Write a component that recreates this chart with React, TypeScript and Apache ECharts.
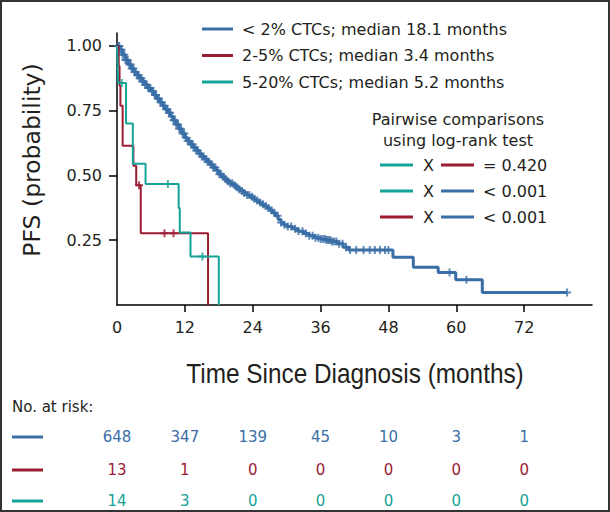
import React, { useEffect, useRef } from 'react';
import * as echarts from 'echarts';

const BLUE = '#3a6ea6';
const RED = '#9c1c33';
const TEAL = '#16a397';
const TEXT = '#231f20';
const FONT = "'DejaVu Sans', 'Liberation Sans', sans-serif";
const NARROW = "'Liberation Sans', Arial, sans-serif";

const groupNames = [
  '< 2% CTCs; median 18.1 months',
  '2-5% CTCs; median 3.4 months',
  '5-20% CTCs; median 5.2 months',
];
const groupColors = [BLUE, RED, TEAL];

// Kaplan-Meier estimates (time in months, survival prob after the step)
const blueTimes = [0, 0.5, 1, 1.5, 2, 2.5, 3, 3.5, 4, 4.5, 5, 5.5, 6, 6.5, 7, 7.5, 8, 8.5, 9, 9.5, 10, 10.5, 11, 11.5, 12, 12.5, 13, 13.5, 14, 14.5, 15, 15.5, 16, 16.5, 17, 17.5, 18, 18.5, 19, 19.5, 20, 20.5, 21, 21.5, 22, 22.5, 23, 23.5, 24, 24.5, 25, 25.5, 26, 26.5, 27, 27.5, 28, 28.5, 29, 29.5, 30, 31, 32, 33, 34, 35, 36, 37, 38, 39, 40, 41, 48.8, 52.4, 56.8, 59.9, 64.6, 79.6];
const blueSurv = [1.0, 0.985, 0.966, 0.946, 0.928, 0.913, 0.899, 0.887, 0.875, 0.863, 0.85, 0.838, 0.825, 0.811, 0.797, 0.783, 0.769, 0.756, 0.742, 0.728, 0.713, 0.697, 0.68, 0.662, 0.646, 0.633, 0.62, 0.608, 0.596, 0.584, 0.573, 0.563, 0.553, 0.542, 0.531, 0.519, 0.505, 0.495, 0.486, 0.478, 0.47, 0.462, 0.455, 0.447, 0.44, 0.432, 0.425, 0.418, 0.41, 0.403, 0.396, 0.389, 0.382, 0.374, 0.366, 0.356, 0.345, 0.33, 0.318, 0.31, 0.303, 0.294, 0.285, 0.276, 0.267, 0.26, 0.255, 0.251, 0.245, 0.236, 0.223, 0.212, 0.184, 0.146, 0.125, 0.097, 0.048, 0.048];
const blueCensor = [0.2, 0.4, 0.6, 0.8, 1.0, 1.3, 1.5, 1.7, 1.9, 2.2, 2.4, 2.6, 2.9, 3.1, 3.3, 3.6, 3.8, 4.0, 4.3, 4.5, 4.7, 5.0, 5.2, 5.5, 5.7, 5.9, 6.2, 6.4, 6.7, 6.9, 7.2, 7.4, 7.7, 7.9, 8.2, 8.4, 8.7, 8.9, 9.2, 9.4, 9.7, 10.0, 10.2, 10.5, 10.8, 11.0, 11.3, 11.6, 11.9, 12.2, 12.5, 12.8, 13.1, 13.4, 13.7, 14.0, 14.3, 14.7, 15.0, 15.3, 15.7, 16.0, 16.3, 16.7, 17.0, 17.4, 17.7, 18.1, 18.4, 18.8, 19.2, 19.6, 20.0, 20.4, 20.8, 21.2, 21.6, 22.1, 22.5, 23.0, 23.4, 23.9, 24.3, 24.8, 25.3, 25.8, 26.3, 26.8, 27.3, 27.8, 28.4, 29.0, 29.6, 30.2, 30.8, 31.5, 32.1, 32.8, 33.4, 34.0, 34.6, 35.1, 35.6, 36.0, 36.4, 36.8, 37.1, 37.4, 37.7, 38.0, 38.4, 38.8, 39.3, 39.9, 40.5, 41.2, 42.3, 43.6, 44.7, 45.6, 46.5, 47.4, 48.0, 58.8, 61.8, 79.6];

const redTimes = [0, 0.3, 0.45, 0.6, 1.0, 2.9, 3.4, 4.2, 16.1];
const redSurv = [1.0, 0.923, 0.846, 0.769, 0.615, 0.538, 0.462, 0.277, 0];
const redCensor = [3.9, 8.4, 10.0];

const tealTimes = [0, 0.1, 0.2, 1.6, 2.8, 5.05, 10.9, 11.1, 13.0, 18.0];
const tealSurv = [1.0, 0.929, 0.857, 0.701, 0.545, 0.467, 0.374, 0.28, 0.187, 0];
const tealCensor = [0.85, 9.0, 15.1];

const xTicks = [0, 12, 24, 36, 48, 60, 72];
const yTicks = [0.25, 0.5, 0.75, 1.0];

const riskTimes = [0, 12, 24, 36, 48, 60, 72];
const riskBlue = [648, 347, 139, 45, 10, 3, 1];
const riskRed = [13, 1, 0, 0, 0, 0, 0];
const riskTeal = [14, 3, 0, 0, 0, 0, 0];

const pairFirst = [TEAL, TEAL, RED];
const pairSecond = [RED, BLUE, BLUE];
const pairP = ['= 0.420', '< 0.001', '< 0.001'];

const PLUS = 'path://M3,0h2v3h3v2h-3v3h-2v-3h-3v-2h3z';

function lookup(times: number[], surv: number[], t: number) {
  let v = surv[0];
  for (let i = 0; i < times.length; i++) if (times[i] <= t) v = surv[i];
  return v;
}

export default function App() {
  const ref = useRef<HTMLDivElement>(null);
  useEffect(() => {
    if (!ref.current) return;
    const chart = echarts.init(ref.current, null, { renderer: 'svg' });
    const curves = [
      [blueTimes, blueSurv, blueCensor],
      [redTimes, redSurv, redCensor],
      [tealTimes, tealSurv, tealCensor],
    ] as number[][][];
    const series: any[] = [];
    curves.forEach((c, i) => {
      series.push({
        name: groupNames[i],
        type: 'line',
        step: 'end',
        showSymbol: false,
        data: c[0].map((t, k) => [t, c[1][k]]),
        lineStyle: { color: groupColors[i], width: i === 0 ? 3 : 2 },
        itemStyle: { color: groupColors[i] },
        z: i === 0 ? 2 : 3,
      });
    });
    curves.forEach((c, i) => {
      series.push({
        type: 'scatter',
        symbol: PLUS,
        symbolSize: 8,
        data: c[2].map((t) => [t, lookup(c[0], c[1], t)]),
        itemStyle: { color: groupColors[i] },
        z: i === 0 ? 2 : 3,
        silent: true,
      });
    });

    chart.setOption({
      animation: false,
      backgroundColor: '#fff',
      grid: { left: 117, right: 18, top: 33, bottom: 207 },
      legend: {
        data: groupNames,
        orient: 'vertical',
        left: 197,
        top: 15,
        icon: 'rect',
        itemWidth: 31,
        itemHeight: 3,
        itemGap: 8.5,
        textStyle: { fontSize: 16, fontFamily: FONT, color: TEXT, lineHeight: 18, padding: [0, 0, 0, 4] },
        selectedMode: false,
      },
      xAxis: {
        type: 'value',
        min: 0,
        max: 84,
        interval: 12,
        splitLine: { show: false },
        axisLine: { show: true, lineStyle: { color: '#000', width: 1.5 } },
        axisTick: { show: true, length: 7, customValues: xTicks.filter((v) => v > 0), lineStyle: { color: '#000', width: 1.5 } },
        axisLabel: {
          customValues: xTicks,
          formatter: (v: number) => (xTicks.indexOf(v) >= 0 ? String(v) : ''),
          fontSize: 16,
          fontFamily: FONT,
          color: TEXT,
          margin: 14,
        },
      },
      yAxis: {
        type: 'value',
        min: 0,
        max: 1.05,
        interval: 0.25,
        splitLine: { show: false },
        axisLine: { show: true, lineStyle: { color: '#000', width: 1.5 } },
        axisTick: { show: true, length: 8, customValues: yTicks, lineStyle: { color: '#000', width: 1.5 } },
        axisLabel: {
          customValues: yTicks,
          formatter: (v: number) => (yTicks.some((y) => Math.abs(y - v) < 1e-6) ? v.toFixed(2) : ''),
          fontSize: 16,
          fontFamily: FONT,
          color: TEXT,
          margin: 15,
        },
      },
      series,
    });

    const g: any[] = [];
    g.push({ type: 'rect', shape: { x: 1, y: 1, width: 608, height: 510 }, style: { fill: 'none', stroke: '#333', lineWidth: 2 }, z: 100 });
    g.push({ type: 'text', x: 32, y: 160, rotation: Math.PI / 2, style: { text: 'PFS (probability)', fontSize: 23.5, fontFamily: FONT, fill: TEXT, textAlign: 'center', textVerticalAlign: 'middle' } });
    g.push({ type: 'text', x: 355, y: 373, scaleX: 0.87, style: { text: 'Time Since Diagnosis (months)', fontSize: 28, fontFamily: NARROW, fill: TEXT, textAlign: 'center', textVerticalAlign: 'middle' } });
    g.push({ type: 'text', x: 458, y: 119, style: { text: 'Pairwise comparisons', fontSize: 16, fontFamily: FONT, fill: TEXT, textAlign: 'center', textVerticalAlign: 'middle' } });
    g.push({ type: 'text', x: 458, y: 140, style: { text: 'using log-rank test', fontSize: 16, fontFamily: FONT, fill: TEXT, textAlign: 'center', textVerticalAlign: 'middle' } });
    const pairY = [165, 191, 217];
    pairY.forEach((y, i) => {
      g.push({ type: 'line', shape: { x1: 380, y1: y, x2: 413, y2: y }, style: { stroke: pairFirst[i], lineWidth: 3 } });
      g.push({ type: 'text', x: 428.5, y, style: { text: 'X', fontSize: 16, fontFamily: FONT, fill: TEXT, textAlign: 'center', textVerticalAlign: 'middle' } });
      g.push({ type: 'line', shape: { x1: 441, y1: y, x2: 474, y2: y }, style: { stroke: pairSecond[i], lineWidth: 3 } });
      g.push({ type: 'text', x: 483, y, style: { text: pairP[i], fontSize: 16, fontFamily: FONT, fill: TEXT, textAlign: 'left', textVerticalAlign: 'middle' } });
    });
    g.push({ type: 'text', x: 12, y: 407, style: { text: 'No. at risk:', fontSize: 15, fontFamily: FONT, fill: TEXT, textAlign: 'left', textVerticalAlign: 'middle' } });
    const riskRows = [riskBlue, riskRed, riskTeal];
    const rowY = [437, 470, 501];
    riskRows.forEach((row, i) => {
      const y = rowY[i];
      g.push({ type: 'line', shape: { x1: 12, y1: y, x2: 43, y2: y }, style: { stroke: groupColors[i], lineWidth: 3 } });
      row.forEach((n, k) => {
        const x = chart.convertToPixel({ xAxisIndex: 0 }, riskTimes[k]) as number;
        g.push({ type: 'text', x, y, style: { text: String(n), fontSize: 15, fontFamily: FONT, fill: groupColors[i], textAlign: 'center', textVerticalAlign: 'middle' } });
      });
    });
    chart.setOption({ graphic: g });

    return () => chart.dispose();
  }, []);
  return <div ref={ref} style={{ position: 'fixed', left: 0, top: 0, width: 610, height: 512, background: '#fff' }} />;
}
